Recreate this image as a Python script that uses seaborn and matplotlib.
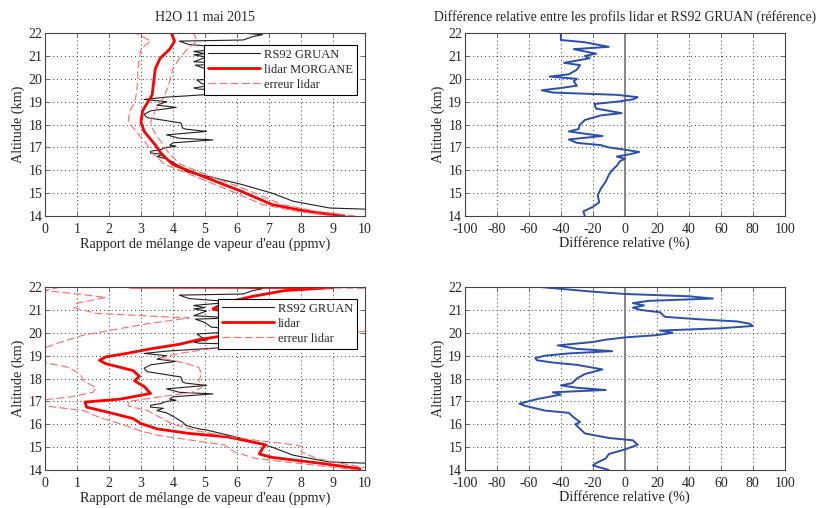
import numpy as np
import pandas as pd
import matplotlib
matplotlib.use('Agg')
import matplotlib.pyplot as plt
import seaborn as sns

# radiosonde RS92 GRUAN profile (same in both rows)
rs_alt = [14.3, 14.35, 14.65, 15.0, 15.4, 15.75, 15.8, 15.95, 16.1, 16.35, 16.5, 16.6, 16.7,
          16.75, 16.83, 16.9, 17.0, 17.05, 17.1, 17.2, 17.33, 17.4, 17.55, 17.7, 17.8, 17.85,
          18.07, 18.3, 18.45, 18.6, 18.75, 18.85, 19.0, 19.1, 19.2, 19.35, 19.45, 19.55, 19.6,
          19.7, 19.8, 19.95, 20.1, 20.25, 20.45, 20.6, 20.65, 20.75, 20.95, 21.05, 21.1, 21.2,
          21.35, 21.5, 21.65, 21.7, 21.85, 21.93, 22.0]
rs_h2o = [10.0, 8.9, 7.75, 7.1, 6.1, 5.05, 4.8, 4.4, 4.3, 4.0, 3.8, 3.5, 3.7,
          3.3, 3.3, 3.6, 3.8, 4.1, 3.9, 4.0, 5.25, 4.2, 3.8, 5.05, 4.4, 4.3,
          4.25, 3.2, 3.1, 3.3, 4.1, 3.5, 3.8, 3.1, 3.8, 5.5, 7.4, 4.8, 4.65,
          5.1, 4.9, 4.75, 6.5, 5.2, 5.0, 4.7, 5.9, 4.65, 5.05, 4.65, 5.0, 4.65,
          5.9, 4.5, 4.2, 6.2, 6.5, 6.8, 6.2]

# lidar MORGANE profile (top row)
lid1_alt = [14.0, 14.2, 14.5, 15.1, 15.7, 16.25, 16.7, 17.1, 17.7, 18.1, 18.6, 18.95, 19.3,
            19.9, 20.45, 20.9, 21.3, 21.65, 22.0]
lid1_h2o = [9.35, 8.2, 7.1, 6.1, 5.0, 4.0, 3.65, 3.45, 3.1, 3.0, 3.05, 3.2, 3.35,
            3.4, 3.45, 3.6, 3.9, 4.05, 3.95]
err1_lo = [9.0, 7.9, 6.8, 5.8, 4.75, 3.75, 3.4, 3.2, 2.85, 2.6, 2.65, 2.8, 2.85,
           2.9, 2.9, 2.95, 3.0, 3.3, 2.85]
err1_hi = [9.7, 8.5, 7.4, 6.4, 5.25, 4.25, 3.9, 3.7, 3.4, 3.3, 3.45, 3.6, 3.75,
           3.9, 4.0, 4.2, 4.45, 4.75, 4.65]

# lidar profile (bottom row)
lid2_alt = [14.05, 14.28, 14.55, 14.7, 14.95, 15.1, 15.22, 15.45, 15.6, 15.8, 16.03, 16.25,
            16.55, 16.75, 16.97, 17.1, 17.35, 17.65, 17.9, 18.1, 18.35, 18.65, 18.8, 18.95,
            19.1, 19.3, 19.5, 19.7, 19.9, 20.05, 20.25, 20.5, 20.8, 21.05, 21.3, 21.6, 21.85,
            21.98, 22.0]
lid2_h2o = [9.85, 8.7, 7.1, 6.7, 6.8, 6.9, 6.5, 5.7, 4.5, 3.5, 3.0, 2.75,
            1.9, 1.3, 1.25, 2.35, 3.3, 3.1, 2.8, 2.95, 2.75, 1.9, 1.7, 1.9,
            2.55, 3.3, 4.2, 4.8, 5.7, 6.8, 7.3, 7.0, 5.9, 5.25, 5.6, 6.5, 7.5,
            9.0, 2.65]
err2_alt = [14.0, 14.2, 14.5, 14.8, 15.0, 15.1, 15.3, 15.5, 15.7, 16.0, 16.3, 16.6, 16.8,
            17.0, 17.2, 17.4, 17.6, 17.9, 18.2, 18.5, 18.7, 18.9, 19.1, 19.35, 19.6, 19.9,
            20.1, 20.4, 20.65, 20.85, 21.1, 21.3, 21.55, 21.7, 21.85, 21.95, 22.0]
err2_lo = [9.8, 8.5, 6.6, 5.9, 5.7, 5.6, 4.6, 3.6, 3.0, 2.4, 1.7, 1.2, 0.0,
           -0.5, 0.8, 1.5, 1.6, 1.2, 1.1, 0.7, 0.0, -0.6, -0.4, 0.0, 0.5, 1.2,
           2.0, 3.2, 4.5, 1.6, 0.9, 1.0, 1.9, 1.0, 0.0, 0.3, 0.5]
err2_hi = [10.5, 9.6, 8.5, 8.0, 8.1, 7.8, 6.6, 5.6, 4.8, 4.0, 3.6, 3.2, 2.6,
           2.6, 3.6, 4.6, 4.9, 4.8, 4.9, 4.8, 4.3, 3.6, 4.2, 5.4, 7.0, 8.8,
           10.2, 11.0, 10.8, 10.6, 10.5, 10.8, 10.9, 10.6, 10.3, 10.0, 6.8]

# relative difference lidar vs RS92 (%)
d1_alt = [14.0, 14.2, 14.4, 14.6, 14.9, 15.2, 15.5, 15.8, 16.0, 16.2, 16.4, 16.5, 16.6, 16.7,
          16.8, 16.9, 17.0, 17.1, 17.2, 17.35, 17.5, 17.6, 17.7, 17.8, 18.0, 18.2, 18.4, 18.5,
          18.6, 18.7, 18.9, 19.0, 19.1, 19.2, 19.3, 19.4, 19.5, 19.6, 19.7, 19.9, 20.0, 20.1,
          20.2, 20.4, 20.6, 20.7, 20.8, 20.9, 21.0, 21.1, 21.2, 21.3, 21.4, 21.6, 21.7, 21.9, 22.0]
d1_val = [-25, -26, -20, -16, -17, -15, -12, -10, -8, -5, -3, 0, -5, 3,
          9, 0, -10, -15, -30, -35, -14, -25, -35, -29, -28, -25, -15, -2,
          -10, -18, -19, -5, 5, 8, -5, -45, -52, -40, -30, -32, -30, -47,
          -35, -30, -28, -38, -30, -22, -25, -18, -25, -32, -10, -25, -40, -40, -40]

d2_alt = [14.0, 14.2, 14.3, 14.5, 14.7, 14.9, 15.1, 15.3, 15.4, 15.6, 15.8, 16.0, 16.1, 16.3,
          16.5, 16.6, 16.8, 16.9, 17.1, 17.3, 17.4, 17.5, 17.6, 17.7, 17.8, 18.0, 18.2, 18.4,
          18.6, 18.7, 18.8, 18.9, 19.0, 19.1, 19.2, 19.3, 19.45, 19.6, 19.7, 19.8, 19.9, 20.0,
          20.1, 20.2, 20.3, 20.4, 20.5, 20.6, 20.7, 20.9, 21.0, 21.1, 21.2, 21.3, 21.4, 21.5,
          21.6, 21.7, 21.8, 22.0]
d2_val = [-10, -20, -18, -12, -10, 0, 8, 5, -10, -25, -28, -31, -28, -32,
          -35, -50, -62, -66, -55, -40, -45, -12, -30, -40, -33, -30, -25, -14,
          -30, -45, -55, -56, -50, -35, -8, -30, -42, -20, -12, 0, 20, 30,
          22, 60, 80, 78, 70, 45, 25, 22, 10, 5, 12, 5, 15, 55,
          40, 0, -20, -52]

sns.set_style('ticks')
plt.rcParams['font.family'] = ['Liberation Serif', 'DejaVu Serif']
plt.rcParams['axes.unicode_minus'] = False
plt.rcParams['xtick.direction'] = 'in'
plt.rcParams['ytick.direction'] = 'in'
plt.rcParams['xtick.top'] = True
plt.rcParams['ytick.right'] = True

fig = plt.figure(figsize=(8.2, 5.08), dpi=100)
ax1 = fig.add_axes([0.0549, 0.5748, 0.390, 0.360])
ax2 = fig.add_axes([0.567, 0.5748, 0.390, 0.360])
ax3 = fig.add_axes([0.0549, 0.0748, 0.390, 0.360])
ax4 = fig.add_axes([0.567, 0.0748, 0.390, 0.360])

red = '#ff0000'
light = '#ff6a6a'
dash = (0, (7, 3))


def h2o_panel(ax, lid_alt, lid, e_alt, e_lo, e_hi, lid_label):
    sns.lineplot(x=rs_h2o, y=rs_alt, sort=False, estimator=None, ax=ax,
                 color='#202020', lw=0.8, label='RS92 GRUAN')
    sns.lineplot(x=lid, y=lid_alt, sort=False, estimator=None, ax=ax,
                 color=red, lw=2.0, label=lid_label)
    sns.lineplot(x=e_lo, y=e_alt, sort=False, estimator=None, ax=ax,
                 color=light, lw=0.8, linestyle=dash, label='erreur lidar')
    sns.lineplot(x=e_hi, y=e_alt, sort=False, estimator=None, ax=ax,
                 color=light, lw=0.8, linestyle=dash, label='_nolegend_')
    ax.set_xlim(0, 10)
    ax.set_xticks(range(0, 11))
    ax.set_xlabel("Rapport de mélange de vapeur d'eau (ppmv)", fontsize=10.2, labelpad=1)
    leg = ax.legend(loc='upper right', bbox_to_anchor=(0.995, 0.97), fontsize=9,
                    fancybox=False, framealpha=1, edgecolor='black',
                    handlelength=4.2, borderpad=0.3, labelspacing=0.25, handletextpad=0.3)
    leg.get_frame().set_linewidth(0.8)


def diff_panel(ax, d_alt, d_val):
    ax.axvline(0, color='#808080', lw=1.3, zorder=1)
    sns.lineplot(x=d_val, y=d_alt, sort=False, estimator=None, ax=ax,
                 color='#2b4fae', lw=1.4)
    ax.set_xlim(-100, 100)
    ax.set_xticks(range(-100, 101, 20))
    ax.set_xlabel('Différence relative (%)', fontsize=10.2, labelpad=0)


h2o_panel(ax1, lid1_alt, lid1_h2o, lid1_alt, err1_lo, err1_hi, 'lidar MORGANE')
h2o_panel(ax3, lid2_alt, lid2_h2o, err2_alt, err2_lo, err2_hi, 'lidar')
diff_panel(ax2, d1_alt, d1_val)
diff_panel(ax4, d2_alt, d2_val)

ax1.set_title('H2O 11 mai 2015', fontsize=10, pad=9)
ax2.set_title('Différence relative entre les profils lidar et RS92 GRUAN (référence)',
              fontsize=9.8, pad=9)

for ax in [ax1, ax2, ax3, ax4]:
    ax.set_ylim(14, 22)
    ax.set_yticks(range(14, 23))
    ax.set_ylabel('Altitude (km)', fontsize=10.2, labelpad=2)
    ax.grid(True, color='#333333', linestyle=(0, (1, 3)), lw=0.7)
    ax.tick_params(labelsize=10, length=3, width=0.6, color='#555555', pad=2)
    ax.tick_params(axis='x', pad=5)
    for s in ax.spines.values():
        s.set_linewidth(0.8)
        s.set_color('#444444')

fig.savefig('out.png', dpi=100)
